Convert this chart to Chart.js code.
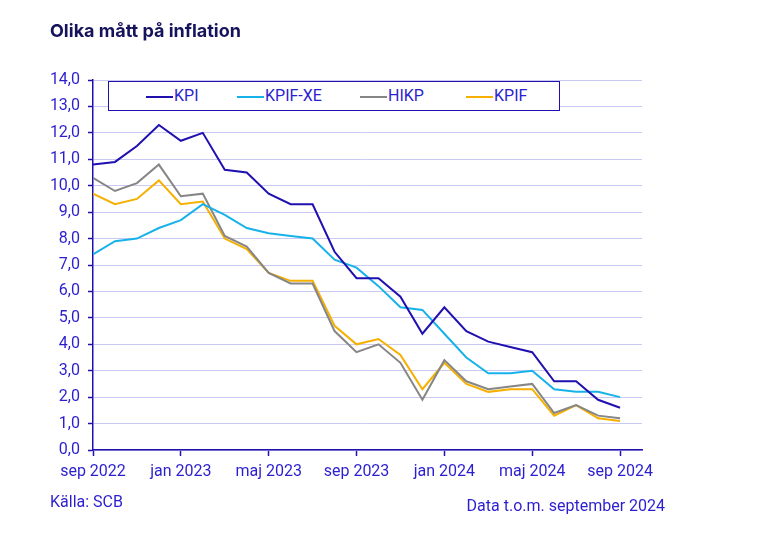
<!DOCTYPE html>
<html>
<head>
<meta charset="utf-8">
<script src="https://cdn.jsdelivr.net/npm/chart.js@4/dist/chart.umd.min.js"></script>
<style>
  body { margin: 0; background: #fff; }
  #wrap { position: relative; width: 780px; height: 546px; font-family: Roboto, sans-serif; color: #2b1ecf; }
  #title { position: absolute; left: 50px; top: 20px; font: bold 18px Inter, sans-serif; color: #15135c; }
  #legend { position: absolute; left: 108px; top: 81px; width: 450px; height: 28px; border: 1.5px solid #2010b0; background: #fff; }
  .item { position: absolute; top: 4px; font-size: 16px; line-height: 19px; white-space: nowrap; }
  .item span { display: inline-block; width: 27px; height: 2.5px; vertical-align: middle; margin-right: 1px; }
  #source { position: absolute; left: 50px; top: 492px; font-size: 16px; line-height: 19px; }
  #note { position: absolute; right: 115px; top: 496px; font-size: 16px; line-height: 19px; }
  canvas { position: absolute; left: 0; top: 0; }
</style>
</head>
<body>
<div id="wrap">
  <canvas id="chart" width="780" height="546"></canvas>
  <div id="title">Olika mått på inflation</div>
  <div id="legend"></div>
  <div id="source">Källa: SCB</div>
  <div id="note">Data t.o.m. september 2024</div>
</div>
<script>
// Months sep 2022 .. sep 2024
const months = ['sep 2022', 'okt 2022', 'nov 2022', 'dec 2022', 'jan 2023', 'feb 2023', 'mar 2023', 'apr 2023',
    'maj 2023', 'jun 2023', 'jul 2023', 'aug 2023', 'sep 2023', 'okt 2023', 'nov 2023', 'dec 2023',
    'jan 2024', 'feb 2024', 'mar 2024', 'apr 2024', 'maj 2024', 'jun 2024', 'jul 2024', 'aug 2024', 'sep 2024'];

const kpi = [10.8, 10.9, 11.5, 12.3, 11.7, 12.0, 10.6, 10.5, 9.7, 9.3, 9.3, 7.5, 6.5, 6.5, 5.8, 4.4, 5.4, 4.5, 4.1, 3.9, 3.7, 2.6, 2.6, 1.9, 1.6];
const kpifXe = [7.4, 7.9, 8.0, 8.4, 8.7, 9.3, 8.9, 8.4, 8.2, 8.1, 8.0, 7.2, 6.9, 6.2, 5.4, 5.3, 4.4, 3.5, 2.9, 2.9, 3.0, 2.3, 2.2, 2.2, 2.0];
const hikp = [10.3, 9.8, 10.1, 10.8, 9.6, 9.7, 8.1, 7.7, 6.7, 6.3, 6.3, 4.5, 3.7, 4.0, 3.3, 1.9, 3.4, 2.6, 2.3, 2.4, 2.5, 1.4, 1.7, 1.3, 1.2];
const kpif = [9.7, 9.3, 9.5, 10.2, 9.3, 9.4, 8.0, 7.6, 6.7, 6.4, 6.4, 4.7, 4.0, 4.2, 3.6, 2.3, 3.3, 2.5, 2.2, 2.3, 2.3, 1.3, 1.7, 1.2, 1.1];

// every fourth month gets a tick label
const xTicks = [0, 4, 8, 12, 16, 20, 24];

const axisColor = '#2010b0';
const textColor = '#2b1ecf';

function toPoints(arr) {
    return arr.map((v, i) => ({ x: i, y: v }));
}

const series = [
    { label: 'KPI', data: kpi, color: '#2010b0', legendX: 37 },
    { label: 'KPIF-XE', data: kpifXe, color: '#18b2ea', legendX: 128 },
    { label: 'HIKP', data: hikp, color: '#868686', legendX: 251 },
    { label: 'KPIF', data: kpif, color: '#f5b000', legendX: 357 }
];

// html legend inside a framed box
const legendEl = document.getElementById('legend');
series.forEach(s => {
    const d = document.createElement('div');
    d.className = 'item';
    d.style.left = s.legendX + 'px';
    d.innerHTML = '<span style="background:' + s.color + '"></span>' + s.label;
    legendEl.appendChild(d);
});

new Chart(document.getElementById('chart'), {
    type: 'line',
    data: {
        datasets: series.map(s => ({
            label: s.label,
            data: toPoints(s.data),
            borderColor: s.color,
            backgroundColor: s.color,
            borderWidth: 2,
            pointRadius: 0,
            tension: 0
        }))
    },
    options: {
        responsive: false,
        animation: false,
        layout: { padding: { left: 0, top: 80, right: 138, bottom: 0 } },
        plugins: { legend: { display: false }, tooltip: { enabled: false } },
        scales: {
            x: {
                type: 'linear',
                min: 0,
                max: 25,
                afterBuildTicks: scale => { scale.ticks = xTicks.map(v => ({ value: v })); },
                afterFit: scale => { scale.height = 96; scale.paddingLeft = 0; scale.paddingRight = 0; },
                grid: { drawOnChartArea: false, tickLength: 6, tickColor: axisColor, tickWidth: 1.5 },
                border: { color: axisColor, width: 1.5 },
                ticks: {
                    autoSkip: false,
                    maxRotation: 0,
                    padding: 6,
                    color: textColor,
                    font: { family: 'Roboto', size: 16 },
                    callback: v => months[v]
                }
            },
            y: {
                min: 0,
                max: 14,
                afterFit: scale => { scale.width = 93; },
                grid: { color: '#c9c9f2', lineWidth: 1, tickLength: 5, tickColor: axisColor, tickWidth: 1.5 },
                border: { color: axisColor, width: 1.5 },
                ticks: {
                    stepSize: 1,
                    padding: 8,
                    color: textColor,
                    font: { family: 'Roboto', size: 16 },
                    callback: v => v.toFixed(1).replace('.', ',')
                }
            }
        }
    }
});
</script>
</body>
</html>
